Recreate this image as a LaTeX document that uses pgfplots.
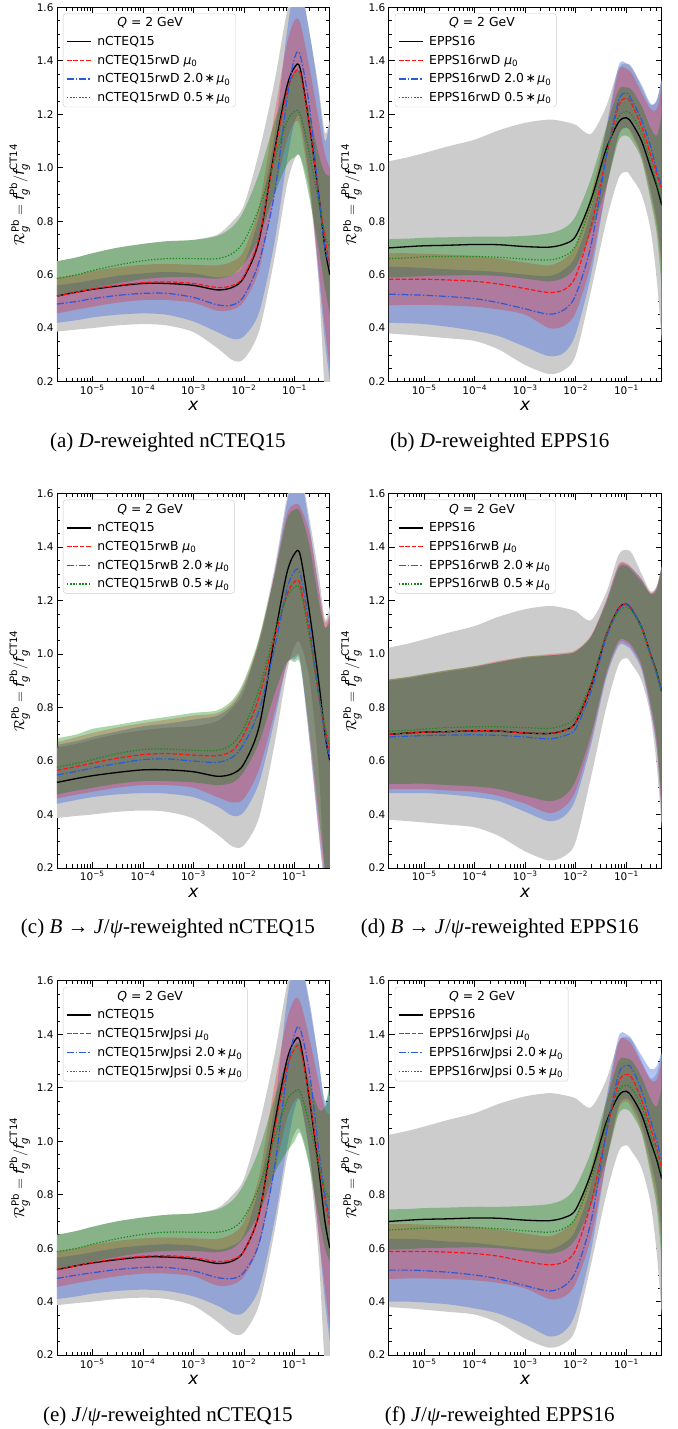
\documentclass[border=0pt]{standalone}
\usepackage{fontspec}
\setmainfont{DejaVu Sans}
\newfontfamily\capfont{Liberation Serif}
\usepackage{amsmath}
\usepackage{pgfplots}
\pgfplotsset{compat=1.18}
\usepgfplotslibrary{fillbetween}

\definecolor{bandblue}{RGB}{65,105,225}
\definecolor{bandgreen}{RGB}{0,128,0}
\definecolor{lineblue}{RGB}{40,90,220}
\definecolor{linered}{RGB}{255,20,20}
\definecolor{linegreen}{RGB}{20,140,20}

% nCTEQ15 baseline: central value and uncertainty band
\pgfplotstableread{
x      c     lo    hi
2e-6   0.520 0.387 0.650
5e-6   0.535 0.395 0.665
1e-5   0.545 0.400 0.680
3e-5   0.557 0.410 0.700
1e-4   0.567 0.415 0.715
3e-4   0.567 0.410 0.725
1e-3   0.560 0.385 0.730
3e-3   0.543 0.325 0.750
6e-3   0.553 0.280 0.800
1e-2   0.590 0.285 0.860
2e-2   0.730 0.390 1.060
4e-2   1.060 0.660 1.320
7e-2   1.300 0.930 1.580
1e-1   1.375 1.030 1.690
1.3e-1 1.370 1.040 1.690
2e-1   1.150 0.900 1.500
3e-1   0.900 0.570 1.300
4e-1   0.700 0.150 1.130
5e-1   0.600 0.000 1.180
}\nctbase

% EPPS16 baseline
\pgfplotstableread{
x      c     lo    hi
2e-6   0.700 0.380 1.024
5e-6   0.705 0.375 1.040
1e-5   0.708 0.370 1.055
3e-5   0.710 0.362 1.080
1e-4   0.713 0.352 1.105
3e-4   0.712 0.320 1.140
1e-3   0.705 0.262 1.168
3e-3   0.703 0.228 1.180
6e-3   0.715 0.245 1.172
1e-2   0.745 0.300 1.160
2e-2   0.880 0.540 1.127
4e-2   1.070 0.800 1.230
7e-2   1.170 0.960 1.370
1e-1   1.187 0.985 1.390
1.3e-1 1.165 0.960 1.375
2e-1   1.100 0.900 1.300
3e-1   1.000 0.770 1.235
4e-1   0.930 0.580 1.255
5e-1   0.860 0.350 1.330
}\eppbase

% (a) D-reweighted nCTEQ15
\pgfplotstableread{
x      r     rlo   rhi    b     blo   bhi    g     glo   ghi
2e-6   0.520 0.455 0.590  0.490 0.420 0.560  0.585 0.520 0.650
5e-6   0.535 0.470 0.600  0.500 0.430 0.570  0.600 0.535 0.665
1e-5   0.547 0.480 0.613  0.510 0.440 0.580  0.615 0.550 0.680
3e-5   0.560 0.495 0.627  0.522 0.450 0.595  0.635 0.567 0.700
1e-4   0.570 0.505 0.637  0.530 0.455 0.605  0.652 0.583 0.715
3e-4   0.573 0.505 0.640  0.530 0.450 0.610  0.660 0.590 0.725
1e-3   0.567 0.495 0.637  0.515 0.425 0.605  0.660 0.590 0.730
3e-3   0.552 0.465 0.635  0.487 0.385 0.590  0.660 0.585 0.745
6e-3   0.560 0.470 0.650  0.487 0.360 0.600  0.680 0.600 0.780
1e-2   0.595 0.500 0.690  0.520 0.370 0.640  0.725 0.640 0.840
2e-2   0.740 0.620 0.860  0.650 0.460 0.820  0.850 0.740 0.980
4e-2   1.050 0.900 1.200  0.900 0.720 1.120  1.030 0.900 1.170
7e-2   1.280 1.100 1.460  1.250 1.020 1.500  1.170 1.010 1.300
1e-1   1.355 1.170 1.550  1.410 1.170 1.680  1.210 1.040 1.360
1.3e-1 1.350 1.150 1.540  1.420 1.180 1.680  1.200 1.040 1.350
2e-1   1.150 0.920 1.370  1.220 0.950 1.500  1.050 0.880 1.200
3e-1   0.900 0.620 1.180  0.900 0.600 1.280  0.870 0.700 1.050
4e-1   0.740 0.400 1.050  0.700 0.350 1.100  0.750 0.550 0.980
5e-1   0.630 0.250 1.000  0.640 0.200 1.180  0.700 0.450 0.970
}\tabA

% (b) D-reweighted EPPS16
\pgfplotstableread{
x      r     rlo   rhi    b     blo   bhi    g     glo   ghi
2e-6   0.583 0.485 0.680  0.527 0.420 0.630  0.660 0.590 0.733
5e-6   0.583 0.487 0.680  0.525 0.418 0.628  0.663 0.592 0.735
1e-5   0.583 0.487 0.678  0.523 0.415 0.625  0.667 0.595 0.738
3e-5   0.580 0.485 0.675  0.518 0.405 0.620  0.668 0.597 0.740
1e-4   0.575 0.480 0.670  0.510 0.390 0.615  0.668 0.598 0.742
3e-4   0.565 0.470 0.660  0.495 0.370 0.610  0.665 0.595 0.742
1e-3   0.548 0.450 0.645  0.472 0.330 0.600  0.658 0.585 0.745
3e-3   0.533 0.400 0.635  0.452 0.295 0.595  0.655 0.575 0.755
6e-3   0.545 0.410 0.660  0.470 0.310 0.620  0.670 0.590 0.775
1e-2   0.595 0.460 0.710  0.525 0.380 0.670  0.710 0.630 0.820
2e-2   0.780 0.640 0.900  0.710 0.600 0.840  0.860 0.760 0.960
4e-2   1.040 0.920 1.140  1.040 0.920 1.150  1.060 0.930 1.150
7e-2   1.230 1.120 1.360  1.250 1.120 1.380  1.190 1.100 1.290
1e-1   1.260 1.150 1.370  1.280 1.150 1.390  1.210 1.120 1.300
1.3e-1 1.235 1.120 1.350  1.250 1.130 1.370  1.195 1.100 1.290
2e-1   1.155 1.040 1.280  1.180 1.050 1.310  1.130 1.030 1.230
3e-1   1.050 0.900 1.220  1.080 0.920 1.240  1.020 0.880 1.150
4e-1   0.975 0.780 1.220  0.990 0.800 1.250  0.940 0.750 1.120
5e-1   0.915 0.620 1.300  0.930 0.650 1.340  0.880 0.550 1.200
}\tabB

% (c) B -> J/psi reweighted nCTEQ15
\pgfplotstableread{
x      r     rlo   rhi    b     blo   bhi    g     glo   ghi
2e-6   0.565 0.460 0.670  0.548 0.440 0.660  0.577 0.475 0.685
5e-6   0.580 0.475 0.690  0.562 0.455 0.675  0.592 0.490 0.700
1e-5   0.592 0.485 0.705  0.574 0.465 0.690  0.605 0.500 0.720
3e-5   0.610 0.500 0.725  0.590 0.475 0.710  0.627 0.515 0.735
1e-4   0.624 0.510 0.742  0.605 0.480 0.730  0.643 0.525 0.752
3e-4   0.628 0.510 0.755  0.608 0.478 0.740  0.645 0.525 0.765
1e-3   0.622 0.500 0.770  0.600 0.465 0.755  0.640 0.520 0.780
3e-3   0.620 0.465 0.780  0.595 0.430 0.770  0.640 0.510 0.790
6e-3   0.640 0.445 0.820  0.615 0.395 0.810  0.665 0.520 0.830
1e-2   0.700 0.460 0.890  0.665 0.410 0.880  0.725 0.560 0.900
2e-2   0.840 0.570 1.050  0.790 0.520 1.040  0.870 0.670 1.060
4e-2   1.060 0.780 1.300  1.020 0.750 1.300  1.080 0.850 1.290
7e-2   1.220 0.960 1.520  1.240 0.960 1.560  1.210 0.970 1.500
1e-1   1.270 0.990 1.560  1.310 0.980 1.680  1.250 0.970 1.540
1.3e-1 1.260 0.980 1.550  1.300 0.970 1.680  1.240 0.960 1.530
2e-1   1.070 0.680 1.450  1.100 0.660 1.470  1.060 0.700 1.400
3e-1   0.850 0.350 1.250  0.850 0.330 1.250  0.860 0.400 1.200
4e-1   0.720 0.150 1.120  0.700 0.120 1.100  0.730 0.200 1.100
5e-1   0.640 0.050 1.150  0.600 0.050 1.150  0.660 0.100 1.120
}\tabC

% (d) B -> J/psi reweighted EPPS16
\pgfplotstableread{
x      r     rlo   rhi    b     blo   bhi    g     glo   ghi
2e-6   0.700 0.495 0.905  0.690 0.480 0.900  0.712 0.515 0.905
5e-6   0.705 0.495 0.915  0.693 0.480 0.910  0.715 0.515 0.915
1e-5   0.708 0.495 0.925  0.695 0.480 0.920  0.720 0.515 0.925
3e-5   0.710 0.490 0.940  0.697 0.475 0.935  0.725 0.510 0.940
1e-4   0.713 0.485 0.955  0.698 0.465 0.950  0.728 0.505 0.955
3e-4   0.712 0.470 0.975  0.696 0.450 0.970  0.728 0.495 0.970
1e-3   0.705 0.440 0.990  0.690 0.410 0.985  0.725 0.470 0.990
3e-3   0.703 0.405 1.000  0.683 0.375 0.995  0.722 0.450 0.995
6e-3   0.715 0.430 1.005  0.695 0.395 1.000  0.735 0.470 1.000
1e-2   0.745 0.490 1.015  0.722 0.460 1.010  0.765 0.530 1.010
2e-2   0.880 0.680 1.070  0.860 0.660 1.065  0.895 0.700 1.065
4e-2   1.070 0.920 1.200  1.060 0.910 1.200  1.075 0.930 1.190
7e-2   1.170 1.040 1.335  1.165 1.030 1.330  1.160 1.050 1.320
1e-1   1.187 1.040 1.340  1.185 1.030 1.335  1.175 1.050 1.330
1.3e-1 1.165 1.020 1.320  1.165 1.010 1.320  1.160 1.030 1.310
2e-1   1.100 0.950 1.280  1.100 0.940 1.280  1.095 0.960 1.270
3e-1   1.000 0.800 1.230  1.000 0.790 1.225  0.995 0.820 1.225
4e-1   0.930 0.650 1.250  0.925 0.640 1.250  0.925 0.680 1.240
5e-1   0.860 0.400 1.330  0.860 0.400 1.330  0.860 0.450 1.330
}\tabD

% (e) J/psi reweighted nCTEQ15
\pgfplotstableread{
x      r     rlo   rhi    b     blo   bhi    g     glo   ghi
2e-6   0.520 0.455 0.590  0.487 0.410 0.565  0.587 0.520 0.650
5e-6   0.535 0.470 0.600  0.500 0.420 0.575  0.600 0.535 0.665
1e-5   0.547 0.480 0.613  0.508 0.430 0.585  0.615 0.550 0.680
3e-5   0.560 0.495 0.627  0.520 0.440 0.600  0.635 0.567 0.700
1e-4   0.570 0.505 0.637  0.528 0.445 0.610  0.652 0.583 0.715
3e-4   0.572 0.505 0.640  0.528 0.440 0.615  0.660 0.590 0.725
1e-3   0.565 0.495 0.637  0.515 0.420 0.610  0.660 0.590 0.730
3e-3   0.550 0.460 0.635  0.490 0.385 0.595  0.660 0.585 0.745
6e-3   0.558 0.465 0.655  0.487 0.355 0.610  0.675 0.600 0.780
1e-2   0.590 0.495 0.700  0.510 0.360 0.650  0.715 0.640 0.840
2e-2   0.730 0.610 0.870  0.620 0.450 0.830  0.830 0.730 0.970
4e-2   1.040 0.880 1.210  0.900 0.700 1.130  1.010 0.880 1.160
7e-2   1.270 1.080 1.450  1.250 0.970 1.520  1.150 0.960 1.300
1e-1   1.345 1.150 1.530  1.400 1.120 1.680  1.185 1.000 1.360
1.3e-1 1.345 1.150 1.520  1.420 1.150 1.680  1.185 1.030 1.360
2e-1   1.160 0.950 1.380  1.250 0.950 1.520  1.060 0.900 1.220
3e-1   0.920 0.650 1.220  0.970 0.650 1.300  0.910 0.720 1.120
4e-1   0.780 0.450 1.120  0.800 0.400 1.150  0.820 0.600 1.130
5e-1   0.680 0.300 1.100  0.710 0.250 1.200  0.780 0.550 1.220
}\tabE

% (f) J/psi reweighted EPPS16
\pgfplotstableread{
x      r     rlo   rhi    b     blo   bhi    g     glo   ghi
2e-6   0.588 0.485 0.690  0.518 0.400 0.635  0.668 0.595 0.745
5e-6   0.588 0.487 0.690  0.518 0.400 0.635  0.672 0.597 0.747
1e-5   0.588 0.487 0.688  0.516 0.397 0.632  0.675 0.600 0.750
3e-5   0.585 0.485 0.685  0.510 0.390 0.625  0.677 0.602 0.752
1e-4   0.580 0.480 0.680  0.500 0.375 0.620  0.677 0.603 0.755
3e-4   0.570 0.470 0.670  0.485 0.355 0.610  0.673 0.600 0.755
1e-3   0.550 0.450 0.655  0.460 0.315 0.600  0.665 0.590 0.758
3e-3   0.538 0.410 0.645  0.440 0.270 0.595  0.660 0.580 0.765
6e-3   0.550 0.420 0.670  0.460 0.290 0.620  0.675 0.595 0.785
1e-2   0.595 0.470 0.720  0.515 0.360 0.670  0.715 0.635 0.830
2e-2   0.770 0.640 0.900  0.700 0.590 0.840  0.860 0.760 0.960
4e-2   1.030 0.920 1.140  1.030 0.920 1.160  1.060 0.930 1.150
7e-2   1.220 1.120 1.370  1.250 1.130 1.390  1.190 1.100 1.300
1e-1   1.250 1.150 1.380  1.285 1.160 1.400  1.210 1.120 1.310
1.3e-1 1.235 1.120 1.360  1.270 1.140 1.380  1.195 1.100 1.300
2e-1   1.155 1.040 1.290  1.190 1.060 1.320  1.130 1.030 1.240
3e-1   1.050 0.900 1.230  1.080 0.930 1.270  1.020 0.880 1.160
4e-1   0.970 0.780 1.230  1.000 0.820 1.280  0.940 0.750 1.130
5e-1   0.900 0.620 1.300  0.930 0.660 1.340  0.880 0.550 1.200
}\tabF

\pgfplotsset{
  every axis/.append style={
    scale only axis, width=273pt, height=374.5pt,
    xmin=2e-6, xmax=0.5, ymin=0.2, ymax=1.6,
    xtick={1e-5,1e-4,1e-3,1e-2,1e-1},
    xticklabels={10\textsuperscript{−5},10\textsuperscript{−4},10\textsuperscript{−3},10\textsuperscript{−2},10\textsuperscript{−1}},
    minor xtick={3e-6,4e-6,5e-6,6e-6,7e-6,8e-6,9e-6,
      2e-5,3e-5,4e-5,5e-5,6e-5,7e-5,8e-5,9e-5,
      2e-4,3e-4,4e-4,5e-4,6e-4,7e-4,8e-4,9e-4,
      2e-3,3e-3,4e-3,5e-3,6e-3,7e-3,8e-3,9e-3,
      2e-2,3e-2,4e-2,5e-2,6e-2,7e-2,8e-2,9e-2,
      0.2,0.3,0.4,0.5},
    ytick={0.2,0.4,0.6,0.8,1.0,1.2,1.4,1.6},
    yticklabels={0.2,0.4,0.6,0.8,1.0,1.2,1.4,1.6},
    minor y tick num=3,
    tick align=inside,
    major tick length=6pt, minor tick length=3.5pt,
    every tick/.style={black, line width=0.7pt},
    axis line style={line width=0.9pt},
    tick label style={font=\fontsize{10.5}{12}\selectfont},
    xlabel={\textit{x}},
    xlabel style={font=\fontsize{17}{20}\selectfont},
    ylabel={$\mathcal{R}_{\text{\itshape g}}^{\text{Pb}} = \text{\itshape f}_{\text{\itshape g}}^{\text{Pb}}/\text{\itshape f}_{\text{\itshape g}}^{\text{CT14}}$},
    ylabel style={font=\fontsize{14.5}{17}\selectfont},
    legend cell align=left,
    legend image post style={xscale=1.4},
    legend style={at={(0,1)}, anchor=north west, xshift=6pt, yshift=-6pt,
      draw=black!20, rounded corners=3pt, fill=white, fill opacity=0.8,
      text opacity=1, row sep=4pt, column sep=4pt,
      font=\fontsize{12.4}{14}\selectfont},
  },
  kline/.style={draw=black, color=black, line width=1.3pt, smooth},
  rline/.style={draw=linered, color=linered, line width=1.2pt, dash pattern=on 4.5pt off 2pt, smooth},
  bline/.style={draw=lineblue, color=lineblue, line width=1.2pt, dash pattern=on 7pt off 2pt on 1.5pt off 2pt, smooth},
  gline/.style={draw=linegreen, color=linegreen, line width=1.2pt, dash pattern=on 1.3pt off 1.8pt, smooth},
  grayfill/.style={draw=none, fill=black!20},
  redfill/.style={draw=none, fill=red, fill opacity=0.25},
  bluefill/.style={draw=none, fill=bandblue, fill opacity=0.4},
  greenfill/.style={draw=none, fill=bandgreen, fill opacity=0.33},
}

% one uncertainty band: table, lower column, upper column, fill style, path name
\newcommand{\band}[5]{%
  \addplot[draw=none, forget plot, smooth, name path=#5lo] table[x=x,y=#2]{#1};
  \addplot[draw=none, forget plot, smooth, name path=#5hi] table[x=x,y=#3]{#1};
  \addplot[#4, forget plot] fill between[of=#5lo and #5hi];
}

% one panel: position, baseline table, panel table, baseline name, reweighted name, id
\newcommand{\panel}[6]{%
\begin{semilogxaxis}[at={#1}, anchor=south west]
  \addlegendimage{empty legend}
  \addlegendentry{\hspace*{20pt}\textit{Q} = 2 GeV}
  \addlegendimage{kline}
  \addlegendentry{#4}
  \addlegendimage{rline}
  \addlegendentry{#5 \textit{μ}\textsubscript{0}}
  \addlegendimage{bline}
  \addlegendentry{#5 2.0\hspace{0.12em}∗\hspace{0.12em}\textit{μ}\textsubscript{0}}
  \addlegendimage{gline}
  \addlegendentry{#5 0.5\hspace{0.12em}∗\hspace{0.12em}\textit{μ}\textsubscript{0}}
  \band{#2}{lo}{hi}{grayfill}{#6k}
  \band{#3}{blo}{bhi}{bluefill}{#6b}
  \band{#3}{rlo}{rhi}{redfill}{#6r}
  \band{#3}{glo}{ghi}{greenfill}{#6g}
  \addplot[kline, forget plot] table[x=x,y=c]{#2};
  \addplot[rline, forget plot] table[x=x,y=r]{#3};
  \addplot[bline, forget plot] table[x=x,y=b]{#3};
  \addplot[gline, forget plot] table[x=x,y=g]{#3};
\end{semilogxaxis}}

\begin{document}
\begin{tikzpicture}
\path (0,0) rectangle (678pt,1429pt);
\panel{(57pt,1047.3pt)}{\nctbase}{\tabA}{nCTEQ15}{nCTEQ15rwD}{pa}
\panel{(389pt,1047.3pt)}{\eppbase}{\tabB}{EPPS16}{EPPS16rwD}{pb}
\panel{(57pt,560.7pt)}{\nctbase}{\tabC}{nCTEQ15}{nCTEQ15rwB}{pc}
\panel{(389pt,560.7pt)}{\eppbase}{\tabD}{EPPS16}{EPPS16rwB}{pd}
\panel{(57pt,73.3pt)}{\nctbase}{\tabE}{nCTEQ15}{nCTEQ15rwJpsi}{pe}
\panel{(389pt,73.3pt)}{\eppbase}{\tabF}{EPPS16}{EPPS16rwJpsi}{pf}
\begin{scope}[every node/.style={font=\capfont\fontsize{21}{24}\selectfont, anchor=base}]
\node at (168pt,981.3pt) {(a) \textit{D}-reweighted nCTEQ15};
\node at (500pt,981.3pt) {(b) \textit{D}-reweighted EPPS16};
\node at (168pt,494.7pt) {(c) \textit{B} → \textit{J}/\textit{ψ}-reweighted nCTEQ15};
\node at (500pt,494.7pt) {(d) \textit{B} → \textit{J}/\textit{ψ}-reweighted EPPS16};
\node at (168pt,7.3pt) {(e) \textit{J}/\textit{ψ}-reweighted nCTEQ15};
\node at (500pt,7.3pt) {(f) \textit{J}/\textit{ψ}-reweighted EPPS16};
\end{scope}
\end{tikzpicture}
\end{document}
